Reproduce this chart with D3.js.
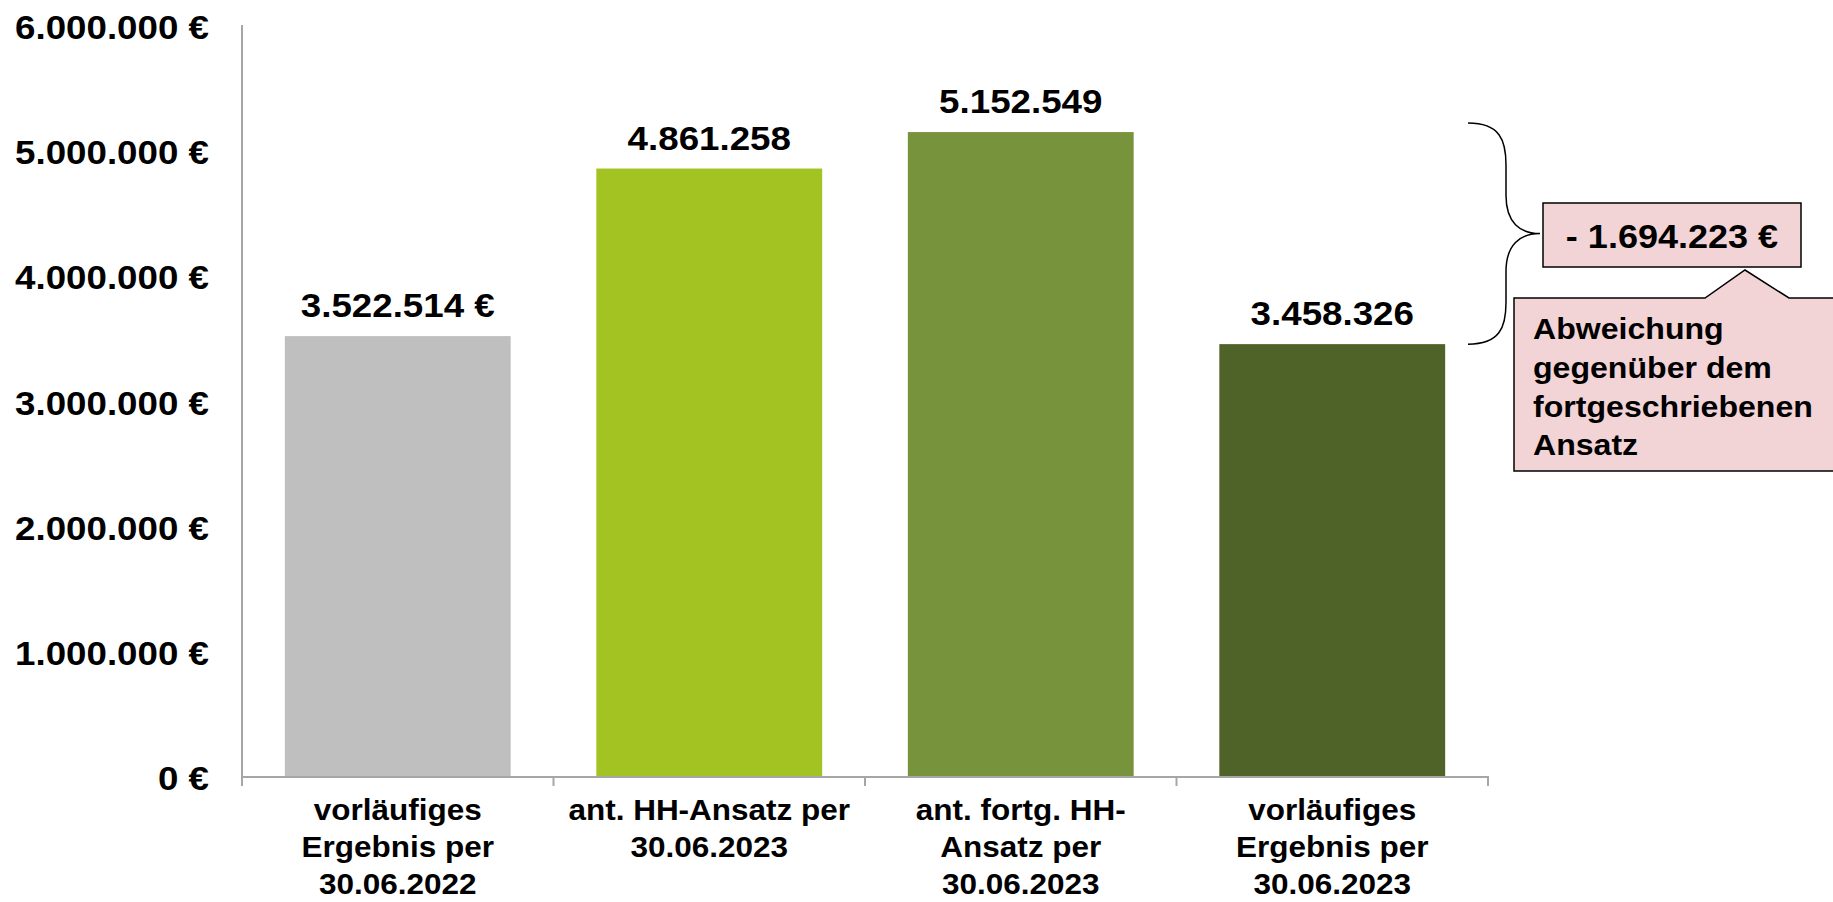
<!DOCTYPE html>
<html>
  <head>
    <meta charset="UTF-8">
    <script src="https://d3js.org/d3.v7.min.js"></script>
    <style>
      body { margin: 0; background: #fff; }
      #svg { display: block; }
      text { font-family: "Liberation Sans", Arial, sans-serif; font-weight: bold; fill: #000; }
    </style>
    <title>Vorläufiges Ergebnis per 30.06.2023</title>
  </head>
  <body>
    <svg id="svg" width="1833" height="902"></svg>
    <script>

      // data
      const categories = [
        ["vorläufiges", "Ergebnis per", "30.06.2022"],
        ["ant. HH-Ansatz per", "30.06.2023"],
        ["ant. fortg. HH-", "Ansatz per", "30.06.2023"],
        ["vorläufiges", "Ergebnis per", "30.06.2023"]
      ];
      const values = [3522514, 4861258, 5152549, 3458326];
      const valueLabels = ["3.522.514 €", "4.861.258", "5.152.549", "3.458.326"];
      const barColors = ["#bfbfbf", "#a3c322", "#77933c", "#4f6228"];
      const yTicks = [0, 1000000, 2000000, 3000000, 4000000, 5000000, 6000000];
      const deltaLabel = "- 1.694.223 €";
      const noteLines = ["Abweichung", "gegenüber dem", "fortgeschriebenen", "Ansatz"];

      const svg = d3.select("svg#svg");

      // scales
      const x = d3.scaleBand().domain(d3.range(values.length)).range([242, 1488]).paddingInner(0.275).paddingOuter(0.1375);
      const y = d3.scaleLinear().domain([0, 6000000]).range([777, 26]);
      const step = x.step();

      // helper: the original text is a little wider than Arial, so stretch it
      function label(g, tx, ty, str, size, anchor, sx) {
        return g.append("text")
          .attr("transform", "translate(" + tx + "," + ty + ") scale(" + sx + ",1)")
          .attr("text-anchor", anchor)
          .style("font-size", size + "px")
          .text(str);
      }

      // y axis (line only, labels to the left)
      svg.append("line")
        .attr("x1", 242).attr("x2", 242)
        .attr("y1", y(6000000) - 1).attr("y2", y(0))
        .attr("stroke", "#a6a6a6").attr("stroke-width", 2);

      const yLab = svg.append("g");
      yTicks.forEach(t => {
        const s = d3.format(",")(t).replace(/,/g, ".") + " €";
        label(yLab, 209, y(t) + 13, s, 34, "end", 1.08);
      });

      // bars
      svg.append("g").selectAll("rect")
        .data(values)
        .enter()
        .append("rect")
        .attr("x", (d, i) => x(i))
        .attr("width", x.bandwidth())
        .attr("y", d => y(d))
        .attr("height", d => y(0) - y(d))
        .attr("fill", (d, i) => barColors[i]);

      // x axis with ticks between categories
      const xAxis = svg.append("g").attr("stroke", "#a6a6a6").attr("stroke-width", 2);
      xAxis.append("line").attr("x1", 241).attr("x2", 1489).attr("y1", y(0)).attr("y2", y(0));
      d3.range(values.length + 1).forEach(i => {
        const px = 242 + i * step;
        xAxis.append("line").attr("x1", px).attr("x2", px).attr("y1", y(0)).attr("y2", y(0) + 9);
      });

      // value labels
      const vLab = svg.append("g");
      values.forEach((v, i) => {
        label(vLab, x(i) + x.bandwidth() / 2, y(v) - 19, valueLabels[i], 34, "middle", 1.08);
      });

      // category labels
      const cLab = svg.append("g");
      categories.forEach((lines, i) => {
        lines.forEach((ln, j) => {
          label(cLab, x(i) + x.bandwidth() / 2, 820 + j * 37, ln, 30, "middle", 1.05);
        });
      });

      // curly brace from the updated budget down to the result
      const bTop = y(values[2]) - 9;
      const bBot = y(values[3]);
      const bMid = (bTop + bBot) / 2;
      const bx = 1468, bxm = 1506, btip = 1540;
      svg.append("path")
        .attr("d",
          "M" + bx + "," + bTop +
          " C" + (bx + 32) + "," + bTop + " " + bxm + "," + (bTop + 17) + " " + bxm + "," + (bTop + 42) +
          " L" + bxm + "," + (bMid - 38) +
          " C" + bxm + "," + (bMid - 11) + " " + (bxm + 14) + "," + bMid + " " + btip + "," + bMid +
          " C" + (bxm + 14) + "," + bMid + " " + bxm + "," + (bMid + 11) + " " + bxm + "," + (bMid + 38) +
          " L" + bxm + "," + (bBot - 42) +
          " C" + bxm + "," + (bBot - 17) + " " + (bx + 32) + "," + bBot + " " + bx + "," + bBot)
        .attr("fill", "none")
        .attr("stroke", "#000")
        .attr("stroke-width", 1.5);

      // callout: difference box
      const pink = "#f2d3d6";
      svg.append("rect")
        .attr("x", 1543).attr("y", 203)
        .attr("width", 258).attr("height", 64)
        .attr("fill", pink).attr("stroke", "#000").attr("stroke-width", 1.5);
      label(svg, 1672, 248, deltaLabel, 34, "middle", 1.06);

      // callout: explanation box with pointer
      svg.append("path")
        .attr("d", "M1514,298 L1705,298 L1745,270 L1789,298 L1840,298 L1840,471 L1514,471 Z")
        .attr("fill", pink).attr("stroke", "#000").attr("stroke-width", 1.5);
      const nLab = svg.append("g");
      noteLines.forEach((ln, j) => {
        label(nLab, 1533, 339 + j * 38.8, ln, 30, "start", 1.07);
      });

    </script>
  </body>
</html>
